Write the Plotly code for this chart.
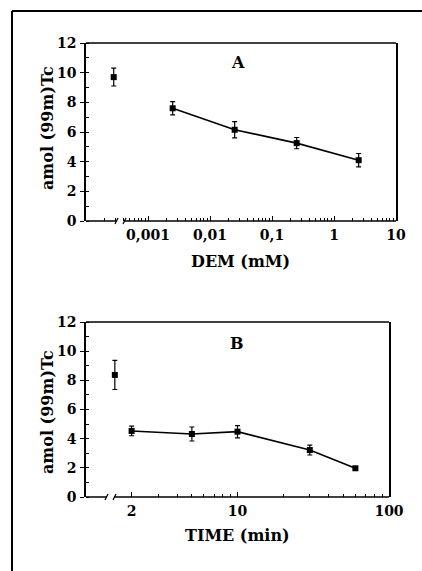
import plotly.graph_objects as go

W, H = 422, 571

# ---- Data (panel A: DEM) ----
dem_mM = [0.0025, 0.025, 0.25, 2.5]
dem_amol = [7.6, 6.15, 5.25, 4.1]
dem_err = [0.45, 0.55, 0.38, 0.45]
dem_ctrl_x = [0.00028]
dem_ctrl_y = [9.7]
dem_ctrl_err = [0.6]
dem_ticks = [0.001, 0.01, 0.1, 1, 10]
dem_ticktext = ["0,001", "0,01", "0,1", "1", "10"]

# ---- Data (panel B: time) ----
time_min = [2, 5, 10, 30, 60]
time_amol = [4.53, 4.32, 4.48, 3.22, 1.97]
time_err = [0.33, 0.48, 0.42, 0.34, 0.08]
time_ctrl_x = [1.55]
time_ctrl_y = [8.37]
time_ctrl_err = [1.0]
time_ticks = [2, 10, 100]
time_ticktext = ["2", "10", "100"]

y_ticks = [0, 2, 4, 6, 8, 10, 12]

FONT = "DejaVu Serif"
tickfont = dict(family=FONT, size=14, color="black", weight="bold")

def px_x(p):
    return p / W

def px_y(p):
    return 1 - p / H

A = dict(l=86, r=396, t=43, b=221)
B = dict(l=86, r=389, t=322, b=497)

fig = go.Figure()

def add_series(x, y, err, xa, ya, line):
    fig.add_trace(go.Scatter(
        x=x, y=y, xaxis=xa, yaxis=ya,
        mode="lines+markers" if line else "markers",
        line=dict(color="black", width=1.6),
        marker=dict(symbol="square", size=6, color="black"),
        error_y=dict(type="data", array=err, color="black", thickness=1.2, width=2.5),
        showlegend=False, hoverinfo="skip",
    ))

add_series(dem_ctrl_x, dem_ctrl_y, dem_ctrl_err, "x", "y", False)
add_series(dem_mM, dem_amol, dem_err, "x", "y", True)
add_series(time_ctrl_x, time_ctrl_y, time_ctrl_err, "x2", "y2", False)
add_series(time_min, time_amol, time_err, "x2", "y2", True)

def minor_vals(lo, hi):
    vals = []
    d = lo
    while d < hi:
        for k in range(2, 10):
            vals.append(k * d)
        d *= 10
    return vals

def xaxis_cfg(box, rng, tv, tt, minors, anchor):
    return dict(
        type="log", range=rng, domain=[px_x(box["l"]), px_x(box["r"])],
        anchor=anchor, showgrid=False, zeroline=False, showline=False,
        automargin=False,
        tickmode="array", tickvals=tv, ticktext=tt, ticks="inside",
        ticklen=5, tickwidth=1.2, tickcolor="black", tickfont=tickfont,
        ticklabelstandoff=4,
        minor=dict(tickmode="array", tickvals=minors, ticks="inside",
                   ticklen=3, tickwidth=1, tickcolor="black"),
    )

def yaxis_cfg(box, anchor):
    return dict(
        range=[0, 12], domain=[px_y(box["b"]), px_y(box["t"])], anchor=anchor,
        showgrid=False, zeroline=False, showline=True, linecolor="black",
        linewidth=1.5, mirror=True, tickmode="array", tickvals=y_ticks,
        automargin=False,
        ticks="outside", ticklen=4, tickwidth=1.2, tickcolor="black",
        tickfont=tickfont, ticklabelstandoff=1,
        minor=dict(dtick=1, ticks="inside", ticklen=3, tickwidth=1, tickcolor="black"),
    )

fig.update_layout(
    width=W, height=H, margin=dict(l=0, r=0, t=0, b=0, pad=0, autoexpand=False),
    paper_bgcolor="white", plot_bgcolor="white",
    xaxis=xaxis_cfg(A, [-4, 1], dem_ticks, dem_ticktext, minor_vals(0.0001, 10), "y"),
    yaxis=yaxis_cfg(A, "x"),
    xaxis2=xaxis_cfg(B, [0, 2], time_ticks, time_ticktext, [k for k in minor_vals(1, 100) if k not in time_ticks], "y2"),
    yaxis2=yaxis_cfg(B, "x2"),
)

shapes = []
def seg(x0, y0, x1, y1, w=1.2, color="black"):
    shapes.append(dict(type="line", xref="paper", yref="paper",
                       x0=px_x(x0), x1=px_x(x1), y0=px_y(y0), y1=px_y(y1),
                       line=dict(color=color, width=w)))

for box, g0, g1 in [(A, 117, 124), (B, 107, 114)]:
    seg(box["l"], box["b"], g0, box["b"], w=1.5)
    seg(g1, box["b"], box["r"], box["b"], w=1.5)
    seg(box["l"], box["t"], box["r"], box["t"], w=1.5)
    seg(g0 - 2, box["b"] + 3, g0 + 1, box["b"] - 3)
    seg(g1 - 1, box["b"] + 3, g1 + 2, box["b"] - 3)

# outer frame (left and top)
seg(12, 11, 12, H, w=2)
seg(12, 11, W, 11, w=2)
fig.update_layout(shapes=shapes)

titlefont = dict(family=FONT, size=16, color="black", weight="bold")
ann = []
def text(t, x, y, angle=0, font=titlefont):
    ann.append(dict(text=t, x=px_x(x), y=px_y(y), xref="paper", yref="paper",
                    showarrow=False, textangle=angle, font=font,
                    xanchor="center", yanchor="middle"))

letterfont = dict(family=FONT, size=16, color="black", weight="bold")
text("A", 238, 62, font=letterfont)
text("B", 237, 343, font=letterfont)
text("amol (99m)Tc", 47, 128, angle=-90)
text("amol (99m)Tc", 47, 412, angle=-90)
text("DEM (mM)", 240, 261)
text("TIME (min)", 237, 535)
fig.update_layout(annotations=ann)

fig.write_html(
    "out.html",
    config={"displayModeBar": False},
    post_script="document.documentElement.style.overflow='hidden';"
                "document.body.style.overflow='hidden';"
                "document.body.style.margin='0';",
)
